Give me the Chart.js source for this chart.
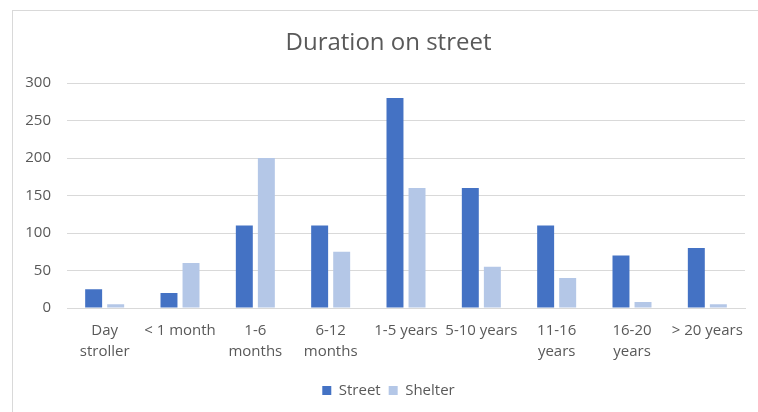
<!DOCTYPE html>
<html>
<head>
<meta charset="utf-8">
<script src="https://cdn.jsdelivr.net/npm/chart.js@4/dist/chart.umd.min.js"></script>
<style>
  html, body { margin: 0; padding: 0; background: #ffffff; }
  #wrap { position: relative; width: 758px; height: 412px; overflow: hidden; }
  #frame { position: absolute; left: 12px; top: 10px; width: 800px; height: 500px;
           border-left: 1px solid #d9d9d9; border-top: 1px solid #d9d9d9; }
  canvas { position: absolute; left: 0; top: 0; }
</style>
</head>
<body>
<div id="wrap">
  <div id="frame"></div>
  <canvas id="chart" width="758" height="412"></canvas>
</div>
<script>
// Duration categories (multi-line where the label wraps)
const categories = [
  ["Day", "stroller"], "< 1 month", ["1-6", "months"], ["6-12", "months"],
  "1-5 years", "5-10 years", ["11-16", "years"], ["16-20", "years"], "> 20 years"
];
const streetValues  = [25, 20, 110, 110, 280, 160, 110, 70, 80];
const shelterValues = [5, 60, 200, 75, 160, 55, 40, 8, 5];
const yTicks = [0, 50, 100, 150, 200, 250, 300];

const FONT = "'Open Sans', sans-serif";
const TEXT = "#595959";
const GRID = "#d9d9d9";

// Centre the title and legend within the framed panel rather than the canvas
const centreInFrame = {
  id: "centreInFrame",
  afterLayout(chart) {
    const frameLeft = 32;
    if (chart.titleBlock) { chart.titleBlock.left = frameLeft; chart.titleBlock.width = chart.titleBlock.right - frameLeft; }
    if (chart.legend) { chart.legend.left = frameLeft; chart.legend.width = chart.legend.right - frameLeft; }
  }
};

new Chart(document.getElementById("chart"), {
  type: "bar",
  data: {
    labels: categories,
    datasets: [
      { label: "Street",  data: streetValues,  backgroundColor: "#4472c4",
        categoryPercentage: 0.585, barPercentage: 0.77 },
      { label: "Shelter", data: shelterValues, backgroundColor: "#b4c7e7",
        categoryPercentage: 0.585, barPercentage: 0.77 }
    ]
  },
  plugins: [centreInFrame],
  options: {
    responsive: false,
    animation: false,
    layout: { padding: { left: 0, right: 13, top: 0, bottom: 4 } },
    plugins: {
      title: {
        display: true, text: "Duration on street", color: TEXT,
        font: { family: FONT, size: 24, weight: "normal", lineHeight: 1.2 },
        padding: { top: 28.6, bottom: 25.6 }
      },
      legend: {
        position: "bottom",
        labels: {
          color: TEXT, boxWidth: 9, boxHeight: 9, padding: 8,
          font: { family: FONT, size: 15 }
        }
      },
      tooltip: { enabled: false }
    },
    scales: {
      x: {
        grid: { display: false, drawTicks: false },
        border: { display: true, color: GRID, width: 1 },
        ticks: { color: TEXT, font: { family: FONT, size: 15, lineHeight: 1.4 },
                 padding: 12.5, maxRotation: 0, autoSkip: false }
      },
      y: {
        min: 0, max: 300,
        afterBuildTicks: (s) => { s.ticks = yTicks.map(v => ({ value: v })); },
        afterFit: (s) => { s.width = 67; },
        grid: { color: GRID, lineWidth: 1, drawTicks: false },
        border: { display: false },
        ticks: { color: TEXT, font: { family: FONT, size: 15 }, padding: 16 }
      }
    }
  }
});
</script>
</body>
</html>
